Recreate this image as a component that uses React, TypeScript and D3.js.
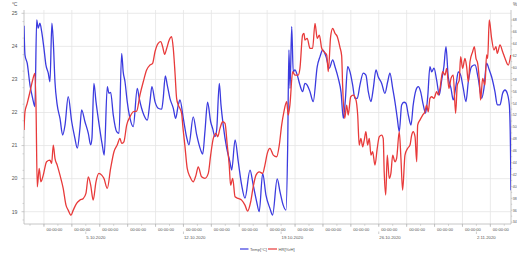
import React from 'react';
import * as d3 from 'd3';

// time is stored as days since 1.10.2020 00:00 (UTC)
const DAY = 864e5;
const ORIGIN = Date.UTC(2020, 9, 1);

const tempDays = [
  -0.43, -0.36, -0.2, 0, 0.19, 0.35, 0.48, 0.59, 0.71, 0.84, 1, 1.14, 1.31, 1.43, 1.57, 1.67, 1.79, 1.95,
  2.15, 2.34, 2.51, 2.74, 2.99, 3.22, 3.39, 3.58, 3.7, 3.94, 4.18, 4.35, 4.44, 4.58, 4.73, 4.96, 5.18, 5.32,
  5.54, 5.66, 5.78, 5.97, 6.21, 6.38, 6.57, 6.68, 6.81, 6.97, 7.17, 7.4, 7.69, 7.83, 8, 8.17, 8.41, 8.6,
  8.74, 8.96, 9.19, 9.44, 9.55, 9.7, 9.84, 10.03, 10.27, 10.44, 10.63, 10.75, 10.99, 11.23, 11.39, 11.7,
  11.95, 12.23, 12.38, 12.54, 12.73, 12.95, 13.09, 13.26, 13.38, 13.57, 13.69, 13.85, 14.1, 14.33, 14.46,
  14.7, 14.93, 15.17, 15.41, 15.77, 16, 16.25, 16.43, 16.68, 16.91, 17.2, 17.39, 17.72, 17.92, 18.15, 18.35,
  18.47, 18.56, 18.64, 18.76, 18.87, 18.99, 19.16, 19.35, 19.54, 19.71, 19.87, 20.07, 20.3, 20.59, 20.79,
  20.98, 21.22, 21.45, 21.7, 21.86, 22.1, 22.3, 22.46, 22.6, 22.77, 22.94, 23.13, 23.29, 23.46, 23.65,
  23.89, 24.08, 24.25, 24.44, 24.61, 24.8, 24.96, 25.21, 25.44, 25.64, 25.8, 26, 26.16, 26.33, 26.47,
  26.64, 26.81, 26.95, 27.12, 27.31, 27.47, 27.67, 27.83, 28, 28.19, 28.36, 28.51, 28.67, 28.79, 28.96,
  29.15, 29.34, 29.51, 29.67, 29.82, 29.98, 30.18, 30.34, 30.54, 30.7, 30.87, 31.06, 31.25, 31.42, 31.66,
  31.9, 32.13, 32.38, 32.54, 32.73, 32.92, 33.09, 33.33, 33.5, 33.69, 33.88, 34.05, 34.21, 34.36, 34.44,
  34.48,
];
const tempVals = [
  24.62, 23.74, 23.49, 22.83, 22.43, 22.18, 24.8, 24.55, 24.7, 24.44, 23.94, 23.44, 23.19, 22.93, 24.7, 24.14, 22.93, 22.23,
  21.82, 21.32, 21.62, 22.48, 21.72, 21.22, 20.92, 21.52, 22.08, 21.72, 21.37, 21.02, 21.22, 22.88, 22.33, 21.62, 21.02, 20.71,
  22.78, 22.58, 22.61, 21.92, 21.42, 21.37, 23.79, 23.23, 22.93, 22.33, 21.82, 21.57, 22.73, 22.43, 22.13, 21.92, 21.77, 22.33,
  22.78, 22.33, 22.13, 22.1, 22.43, 23.11, 22.83, 22.43, 22.13, 21.82, 22.23, 22.38, 21.82, 21.25, 21.02, 21.87,
  21.32, 20.87, 20.74, 21.42, 22.31, 21.72, 21.52, 21.27, 21.47, 22.88, 22.23, 21.62, 20.92, 20.51, 20.26,
  21.17, 20.51, 19.81, 19.41, 20.26, 19.81, 19.3, 19.0, 20.16, 19.51, 19.1, 18.9, 19.99, 19.61, 19.2, 19.05,
  20.92, 23.89, 22.73, 24.6, 23.23, 23.29, 23.13, 22.83, 22.63, 22.88, 22.83, 22.63, 22.33, 23.39, 23.69,
  23.89, 23.69, 23.34, 23.59, 23.39, 23.03, 22.6, 21.82, 22.35, 23.39, 23.23, 22.83, 22.43, 22.43, 22.83,
  23.19, 23.13, 22.63, 22.33, 22.73, 23.29, 23.08, 22.88, 22.58, 22.93, 23.19, 22.73, 22.33, 21.82, 21.42,
  22.23, 22.31, 22.28, 21.92, 21.62, 22.23, 22.68, 22.78, 22.63, 22.23, 21.98, 22.48, 23.39, 23.23, 23.34,
  22.98, 22.53, 22.98, 23.39, 23.99, 23.08, 22.73, 22.38, 22.83, 23.23, 23.13, 22.73, 22.33, 22.93, 23.39,
  23.44, 23.03, 22.43, 22.73, 23.49, 23.29, 23.08, 22.63, 22.23, 22.23, 22.58, 22.68, 22.58, 22.23, 21.02,
  19.65,
];

const humDays = [
  -0.43, -0.36, -0.2, 0, 0.19, 0.35, 0.43, 0.52, 0.66, 0.78, 0.95, 1.19, 1.43, 1.55, 1.67, 1.79, 1.95, 2.15,
  2.38, 2.58, 2.74, 2.94, 3.1, 3.34, 3.58, 3.82, 4.01, 4.18, 4.35, 4.53, 4.73, 4.94, 5.14, 5.3, 5.54, 5.78,
  6.02, 6.25, 6.45, 6.57, 6.73, 6.93, 7.17, 7.4, 7.65, 7.88, 8.12, 8.36, 8.6, 8.79, 8.96, 9.19, 9.37, 9.51,
  9.65, 9.8, 9.98, 10.15, 10.27, 10.39, 10.51, 10.63, 10.75, 10.87, 10.96, 11.11, 11.27, 11.47, 11.7, 11.9,
  12.06, 12.3, 12.54, 12.78, 12.95, 13.14, 13.33, 13.45, 13.62, 13.81, 13.98, 14.14, 14.28, 14.38, 14.53,
  14.7, 14.93, 15.17, 15.41, 15.6, 15.82, 16, 16.2, 16.43, 16.68, 16.84, 17.01, 17.2, 17.44, 17.68, 17.87,
  18.04, 18.2, 18.4, 18.51, 18.63, 18.83, 18.99, 19.23, 19.35, 19.54, 19.64, 19.71, 19.87, 20.07, 20.26,
  20.43, 20.59, 20.74, 20.91, 21.07, 21.27, 21.38, 21.55, 21.7, 21.86, 22.03, 22.22, 22.34, 22.41, 22.56,
  22.7, 22.81, 22.99, 23.17, 23.37, 23.49, 23.6, 23.72, 23.85, 23.96, 24.08, 24.2, 24.32, 24.44, 24.56,
  24.73, 24.89, 25.04, 25.21, 25.32, 25.39, 25.5, 25.61, 25.75, 25.87, 26, 26.16, 26.28, 26.47, 26.59,
  26.71, 26.88, 27.07, 27.24, 27.36, 27.47, 27.6, 27.72, 27.79, 27.95, 28.15, 28.31, 28.43, 28.55, 28.67,
  28.79, 28.96, 29.15, 29.27, 29.39, 29.58, 29.75, 29.87, 30.03, 30.18, 30.34, 30.51, 30.63, 30.77, 30.87,
  31.01, 31.18, 31.3, 31.42, 31.54, 31.73, 31.85, 31.97, 32.09, 32.21, 32.3, 32.45, 32.61, 32.73, 32.81,
  32.92, 33.09, 33.26, 33.4, 33.5, 33.69, 33.88, 34.05, 34.28, 34.46,
];
const humVals = [
  49.48, 52.56, 53.98, 55.93, 57.9, 59.03, 53.69, 39.94, 43.03, 40.78, 41.9, 44.15, 44.43, 43.87, 46.96, 44.72, 43.59, 41.9,
  39.67, 36.86, 36.01, 35.17, 36.01, 37.14, 37.7, 37.98, 38.82, 41.62, 40.22, 37.7, 40.78, 42.19, 41.9, 41.35, 39.67, 43.03,
  45.83, 46.96, 48.08, 47.24, 47.51, 50.32, 51.72, 52.56, 52.68, 55.37, 57.61, 59.58, 60.42, 60.7, 62.66, 64.08, 64.35, 63.5,
  62.23, 63.24, 64.63, 65.19, 63.24, 59.3, 54.82, 53.69, 53.13, 52.29, 50.0, 46.7, 43.03, 41.62, 40.78, 41.9,
  43.3, 41.62, 41.35, 42.19, 45.27, 48.08, 48.93, 48.36, 49.77, 50.88, 50.6, 46.96, 43.59, 40.22, 41.35,
  38.25, 37.98, 37.7, 36.86, 35.85, 37.42, 39.94, 41.9, 42.46, 42.19, 43.59, 45.56, 46.4, 45.27, 44.99, 46.96,
  50.32, 52.56, 54.25, 52.01, 53.69, 59.3, 58.74, 58.74, 59.87, 65.47, 65.76, 64.63, 64.92, 63.24, 63.24,
  67.44, 64.92, 65.47, 63.24, 62.66, 62.11, 59.3, 65.19, 66.6, 65.76, 65.19, 63.4, 62.0, 57.06, 51.45,
  53.69, 52.01, 55.09, 55.37, 54.53, 52.01, 46.96, 48.08, 46.67, 47.8, 49.2, 46.96, 48.08, 45.27, 45.83,
  43.59, 46.4, 48.36, 48.64, 48.08, 42.46, 38.54, 45.27, 41.35, 42.19, 45.27, 44.15, 44.72, 49.2, 44.72,
  39.38, 45.27, 46.4, 46.96, 48.64, 49.2, 48.36, 44.15, 50.32, 51.16, 52.01, 52.56, 53.69, 52.56, 54.82,
  55.09, 54.82, 55.93, 55.37, 56.5, 59.3, 58.74, 59.87, 56.5, 58.18, 58.74, 52.29, 57.06, 57.9, 61.82,
  59.87, 61.55, 60.14, 57.61, 60.98, 62.66, 63.5, 61.55, 60.71, 57.9, 54.53, 58.18, 57.06, 62.11, 61.55,
  68.0, 64.92, 62.95, 63.5, 62.39, 63.8, 62.66, 61.55, 60.42, 62.11,
];

const tempTicks = [19, 20, 21, 22, 23, 24, 25];
const humTicks = [34, 36, 38, 40, 42, 44, 46, 48, 50, 52, 54, 56, 58, 60, 62, 64, 66, 68];
const gridDays = [1, 3, 5, 7, 9, 11, 13, 15, 17, 19, 21, 23, 25, 27, 29, 31, 33];
const weekDays = [4, 11, 18, 25, 32];
const weekLabels = ['5.10.2020', '12.10.2020', '19.10.2020', '26.10.2020', '2.11.2020'];

const BLUE = '#3b3bdf';
const RED = '#e83a3a';
const GRID = '#e4e4e4';
const AXIS = '#b8b8b8';
const TXT = '#555';
const FONT = 'Liberation Sans, Arial, sans-serif';

const toDate = (d: number) => new Date(ORIGIN + d * DAY);

export default function App() {
  const L = 24, R = 511, B = 224, T = 10;
  const x = d3.scaleUtc().domain([toDate(-0.43), toDate(34.48)]).range([L, R]);
  const yT = d3.scaleLinear().domain([19, 25]).range([211.7, 13.3]);
  const yH = d3.scaleLinear().domain([36, 68]).range([210.2, 20]);

  const tempLine = d3.line<number>()
    .x((_, i) => x(toDate(tempDays[i])))
    .y(d => yT(d))
    .curve(d3.curveMonotoneX);
  const humLine = d3.line<number>()
    .x((_, i) => x(toDate(humDays[i])))
    .y(d => yH(d))
    .curve(d3.curveMonotoneX);

  const minorT = d3.range(18.75, 25.01, 0.5).filter(v => yT(v) < B);
  const minorH = d3.range(35, 69, 2);
  const minorDays = d3.range(0, 35, 1).filter(d => x(toDate(d)) > L && x(toDate(d)) < R);

  return (
    <svg width={517} height={253} style={{ position: 'absolute', left: 0, top: 0, background: '#fff' }}
      fontFamily={FONT}>
      <defs>
        <clipPath id="plot"><rect x={L} y={0} width={R - L} height={B} /></clipPath>
      </defs>

      {/* grid */}
      {tempTicks.map(v => (
        <line key={'h' + v} x1={L} x2={R} y1={yT(v)} y2={yT(v)} stroke={GRID} strokeWidth={0.8} />
      ))}
      {gridDays.map(d => (
        <line key={'v' + d} x1={x(toDate(d))} x2={x(toDate(d))} y1={T} y2={B} stroke={GRID} strokeWidth={0.8} />
      ))}

      {/* left axis */}
      <line x1={L} x2={L} y1={T} y2={B} stroke={AXIS} strokeWidth={0.8} />
      {minorT.map(v => (
        <line key={'mt' + v} x1={L - 1.5} x2={L} y1={yT(v)} y2={yT(v)} stroke={AXIS} strokeWidth={0.6} />
      ))}
      {tempTicks.map(v => (
        <g key={'tt' + v}>
          <line x1={L - 2.5} x2={L} y1={yT(v)} y2={yT(v)} stroke={AXIS} strokeWidth={0.7} />
          <text x={17.5} y={yT(v) + 1.8} fontSize={5.2} fill={TXT} textAnchor="end">{v}</text>
        </g>
      ))}
      <text x={17.5} y={6} fontSize={5} fill={TXT} textAnchor="end">°C</text>

      {/* right axis */}
      <line x1={R} x2={R} y1={T} y2={B} stroke={AXIS} strokeWidth={0.8} />
      {minorH.map(v => (
        <line key={'mh' + v} x1={R} x2={R + 1.2} y1={yH(v)} y2={yH(v)} stroke={AXIS} strokeWidth={0.6} />
      ))}
      {humTicks.map(v => (
        <g key={'ht' + v}>
          <line x1={R} x2={R + 1.6} y1={yH(v)} y2={yH(v)} stroke={AXIS} strokeWidth={0.7} />
          <text x={R + 1.8} y={yH(v) + 1.3} fontSize={3.6} fill={TXT}>{v}</text>
        </g>
      ))}
      <text x={R + 2} y={6} fontSize={4.5} fill={TXT}>%</text>

      {/* bottom axis */}
      <line x1={L} x2={R} y1={B} y2={B} stroke={AXIS} strokeWidth={0.8} />
      {minorDays.map(d => (
        <line key={'md' + d} x1={x(toDate(d))} x2={x(toDate(d))} y1={B} y2={B + 1.8} stroke={AXIS} strokeWidth={0.6} />
      ))}
      {gridDays.map(d => (
        <g key={'xt' + d}>
          <line x1={x(toDate(d))} x2={x(toDate(d))} y1={B} y2={B + 3} stroke={AXIS} strokeWidth={0.7} />
          <text x={x(toDate(d)) + 2.5} y={230.5} fontSize={4.1} fill={TXT}>00:00:00</text>
        </g>
      ))}
      {weekDays.map((d, i) => (
        <g key={'wk' + d}>
          <line x1={x(toDate(d))} x2={x(toDate(d))} y1={231.5} y2={234} stroke={AXIS} strokeWidth={0.7} />
          <text x={x(toDate(d)) + 0.5} y={238.5} fontSize={4.3} fill={TXT}>{weekLabels[i]}</text>
        </g>
      ))}

      {/* series */}
      <g clipPath="url(#plot)">
        <path d={tempLine(tempVals) || ''} fill="none" stroke={BLUE} strokeWidth={1.3} strokeLinejoin="round" />
        <path d={humLine(humVals) || ''} fill="none" stroke={RED} strokeWidth={1.3} strokeLinejoin="round" />
      </g>

      {/* legend */}
      <line x1={240} x2={248.5} y1={249} y2={249} stroke={BLUE} strokeWidth={1.2} />
      <text x={250} y={250.5} fontSize={4.1} fill={TXT}>Temp[°C]</text>
      <line x1={268} x2={277} y1={249} y2={249} stroke={RED} strokeWidth={1.2} />
      <text x={278.5} y={250.5} fontSize={4.1} fill={TXT}>HR[%rH]</text>
    </svg>
  );
}
